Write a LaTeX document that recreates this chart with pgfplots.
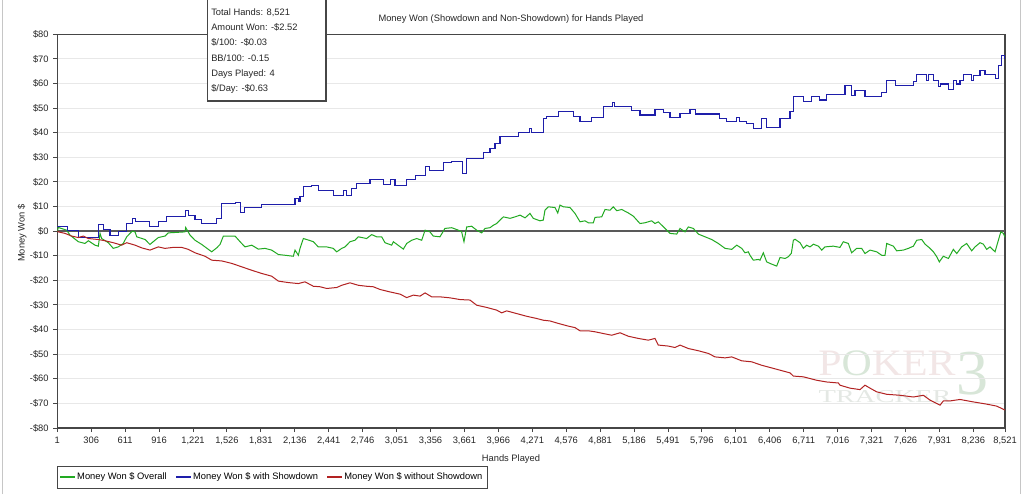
\documentclass[border=0pt]{standalone}
\usepackage{fontspec}
\setmainfont{Liberation Sans}
\newfontfamily\wmfont{Liberation Serif}
\usepackage{pgfplots}
\pgfplotsset{compat=1.18}
\definecolor{cgreen}{RGB}{34,170,34}
\definecolor{cblue}{RGB}{30,30,170}
\definecolor{cred}{RGB}{178,34,34}
\definecolor{axgray}{RGB}{70,70,70}
\definecolor{gridgray}{RGB}{232,232,232}
\definecolor{wmpink}{RGB}{242,230,230}
\definecolor{wmgreen}{RGB}{216,230,216}
\definecolor{wmgray}{RGB}{228,232,228}
\begin{document}
\begin{tikzpicture}[x=0.75pt,y=0.75pt]
\useasboundingbox (0,0) rectangle (1023,494);
\fill[white] (0,0) rectangle (1023,494);
\draw[gray!45,line width=0.75pt] (2,0) -- (2,494);
\draw[gray!45,line width=0.75pt] (1020.5,0) -- (1020.5,494);
% watermark
\node[font=\wmfont\fontsize{28}{28}\selectfont, text=wmpink, xscale=1.12] at (887,131) {P{\color{wmgreen}O}KER};
\node[font=\wmfont\fontsize{13.6}{14}\selectfont, text=wmgray, xscale=1.57] at (885,97) {TRACKER};
\node[font=\wmfont\fontsize{48}{48}\selectfont, text=wmgreen] at (972,120) {3};
\begin{axis}[
  at={(42.975pt,49.5pt)}, anchor=south west,
  scale only axis, width=710.8pt, height=295.3pt,
  xmin=1, xmax=8521, ymin=-80, ymax=80,
  axis line style={axgray, line width=0.9pt},
  tick style={axgray, line width=0.75pt},
  major tick length=3pt, tick align=outside,
  xtick pos=bottom, ytick pos=left,
  ymajorgrids, grid style={gridgray, line width=0.75pt},
  xtick={1,306,611,916,1221,1526,1831,2136,2441,2746,3051,3356,3661,3966,4271,4576,4881,5186,5491,5796,6101,6406,6711,7016,7321,7626,7931,8236,8521},
  xticklabels={1,306,611,916,{1,221},{1,526},{1,831},{2,136},{2,441},{2,746},{3,051},{3,356},{3,661},{3,966},{4,271},{4,576},{4,881},{5,186},{5,491},{5,796},{6,101},{6,406},{6,711},{7,016},{7,321},{7,626},{7,931},{8,236},{8,521}},
  ytick={-80,-70,-60,-50,-40,-30,-20,-10,0,10,20,30,40,50,60,70,80},
  yticklabels={-\$80,-\$70,-\$60,-\$50,-\$40,-\$30,-\$20,-\$10,\$0,\$10,\$20,\$30,\$40,\$50,\$60,\$70,\$80},
  tick label style={font=\fontsize{7}{8}\selectfont, text=black!85},
  title={Money Won (Showdown and Non-Showdown) for Hands Played},
  title style={at={(axis description cs:0.4787,1.0389)}, anchor=center, yshift=-6pt, font=\fontsize{7}{8}\selectfont, text=black!85},
  xlabel={Hands Played},
  xlabel style={at={(axis description cs:0.4787,-0.0787)}, anchor=center, font=\fontsize{7}{8}\selectfont, text=black!85},
  ylabel={Money Won \$},
  ylabel style={at={(axis description cs:-0.0372,0.495)}, anchor=center, rotate=0, font=\fontsize{7}{8}\selectfont, text=black!85},
  legend columns=3,
  legend style={name=lgd, at={(axis description cs:0,-0.0983)}, anchor=north west, draw=none, fill=white, font=\fontsize{7}{8}\selectfont, inner xsep=2pt, inner ysep=2.5pt, /tikz/every even column/.append style={column sep=5pt}},
  legend image code/.code={\fill[#1] (0pt,-0.38pt) rectangle (10pt,0.38pt);},
]
\addplot[black!65, line width=1.1pt, forget plot] coordinates {(1,0) (8521,0)};
\addplot[color=cgreen, line width=0.75pt] coordinates {
(1,0) (10,1.5) (85,0.4) (115,-1.6) (190,-4.3) (250,-5.0) (280,-3.9) (340,-5.7) (370,-6.1) (385,-0.9) (400,-3.0)
(460,-4.7) (504,-7.0) (549,-6.4) (594,-5.0) (625,-2.3) (655,-0.9) (675,0.0) (700,-0.3) (715,-2.3) (790,-3.4)
(834,-5.4) (879,-3.7) (909,-2.6) (969,-2.0) (999,-0.7) (1149,-0.3) (1155,1.5) (1194,-1.6) (1239,-3.7) (1299,-5.4)
(1389,-8.4) (1434,-6.8) (1464,-5.4) (1494,-2.0) (1599,-2.0) (1644,-4.3) (1688,-6.4) (1749,-5.7) (1808,-7.3)
(1868,-7.0) (1928,-7.7) (1988,-9.5) (2048,-9.8) (2123,-10.2) (2138,-7.7) (2168,-9.8) (2183,-7.0) (2213,-3.0)
(2243,-3.4) (2303,-4.3) (2347,-6.4) (2423,-6.4) (2482,-7.0) (2513,-8.4) (2558,-7.0) (2588,-6.4) (2632,-4.3)
(2677,-3.7) (2707,-2.3) (2782,-3.0) (2827,-1.4) (2872,-2.3) (2917,-2.3) (2947,-4.7) (3007,-5.7) (3022,-4.3)
(3112,-7.3) (3142,-5.0) (3187,-3.7) (3232,-3.0) (3277,-3.7) (3307,0.4) (3351,-0.3) (3381,-2.0) (3441,-2.3)
(3486,1.1) (3547,1.4) (3606,0.4) (3636,-0.3) (3657,-4.3) (3681,1.7) (3726,2.0) (3771,0.4) (3816,-0.7) (3846,1.1)
(3891,1.4) (3921,2.4) (3951,3.1) (3981,4.5) (4011,5.8) (4071,5.2) (4116,5.8) (4161,6.5) (4206,5.4) (4250,7.2)
(4280,5.2) (4340,4.2) (4370,4.5) (4385,8.5) (4415,9.9) (4475,9.6) (4500,7.4) (4520,10.6) (4550,9.9) (4610,9.6)
(4655,7.2) (4700,3.8) (4745,4.2) (4775,3.4) (4820,3.4) (4835,5.6) (4895,5.8) (4925,8.8) (4970,8.5) (4999,9.9)
(5030,8.3) (5075,8.8) (5134,7.4) (5179,6.1) (5239,3.1) (5284,3.4) (5344,4.2) (5374,3.1) (5404,3.8) (5464,1.1)
(5509,-0.9) (5569,-1.2) (5599,1.1) (5644,-0.3) (5674,1.7) (5719,1.1) (5764,-1.2) (5824,-2.3) (5884,-3.4)
(5943,-5.0) (6004,-7.0) (6064,-7.4) (6109,-5.7) (6154,-7.0) (6183,-8.8) (6213,-8.4) (6228,-9.8) (6258,-11.8)
(6303,-11.5) (6318,-11.8) (6348,-8.8) (6378,-12.5) (6423,-13.4) (6468,-14.2) (6498,-10.7) (6543,-11.1)
(6573,-10.4) (6600,-9.0) (6618,-3.7) (6633,-3.3) (6678,-4.7) (6708,-7.0) (6738,-5.7) (6768,-6.4) (6798,-5.3)
(6843,-6.1) (6873,-7.7) (6902,-6.4) (6977,-6.1) (7037,-6.6) (7067,-4.3) (7112,-5.0) (7142,-8.8) (7187,-7.0)
(7232,-7.0) (7262,-9.1) (7307,-7.7) (7367,-8.4) (7412,-9.8) (7442,-9.8) (7457,-5.0) (7517,-6.1) (7547,-8.0)
(7607,-7.7) (7652,-7.0) (7697,-6.1) (7727,-3.7) (7772,-3.4) (7802,-5.3) (7847,-7.0) (7877,-8.4) (7907,-10.4)
(7930,-12.5) (7966,-10.2) (8012,-11.1) (8056,-7.4) (8087,-9.1) (8131,-6.4) (8176,-5.0) (8221,-8.0) (8251,-6.4)
(8296,-4.7) (8326,-5.3) (8356,-7.4) (8386,-6.4) (8431,-8.4) (8461,-3.7) (8483,-0.3) (8506,-0.9) (8521,-2.5)
};
\addlegendentry{Money Won \$ Overall}
\addplot[color=cblue, line width=0.8pt, const plot] coordinates {
(1,1.7) (94,0.1) (190,-2.6) (370,2.8) (415,0.7) (475,-1.6) (549,-0.3) (625,3.1) (675,5.2) (700,3.8) (834,1.7)
(909,4.1) (985,6.1) (1155,8.3) (1179,6.5) (1239,4.7) (1299,3.1) (1434,5.2) (1479,11.3) (1599,11.7) (1644,7.6)
(1688,9.6) (1839,10.8) (2138,13.3) (2168,11.9) (2183,14.2) (2213,18.0) (2288,18.4) (2347,16.4) (2482,14.6)
(2572,16.7) (2600,14.6) (2648,17.4) (2693,19.4) (2812,21.0) (2932,19.0) (3000,21.0) (3037,18.7) (3142,21.0)
(3217,22.8) (3307,26.1) (3351,24.5) (3471,27.8) (3547,28.2) (3640,23.5) (3681,29.6) (3831,32.0) (3891,33.6)
(3936,35.6) (3981,38.6) (4145,40.0) (4250,41.7) (4266,40.1) (4370,45.8) (4400,46.7) (4505,48.5) (4640,46.7)
(4700,44.7) (4805,46.2) (4909,50.8) (4990,52.2) (5010,50.8) (5165,48.9) (5239,47.2) (5374,49.5) (5449,48.3)
(5509,46.1) (5599,47.8) (5689,49.5) (5740,47.6) (5958,45.8) (6019,44.7) (6109,46.2) (6130,44.7) (6200,43.8)
(6258,41.7) (6330,45.8) (6378,42.0) (6498,45.8) (6588,48.5) (6618,54.6) (6708,52.8) (6783,54.6) (6857,53.3)
(6918,55.7) (7082,59.3) (7140,55.3) (7172,57.0) (7262,54.9) (7412,56.4) (7457,61.1) (7532,59.1) (7697,60.7)
(7727,63.7) (7817,61.4) (7832,63.7) (7877,61.4) (7922,58.7) (7937,59.8) (8012,57.7) (8056,61.4) (8087,59.8)
(8116,61.4) (8146,63.7) (8221,61.4) (8236,63.4) (8296,65.2) (8341,63.8) (8437,62.1) (8461,67.5) (8485,71.5)
(8512,70.2) (8521,70.2)
};
\addlegendentry{Money Won \$ with Showdown}
\addplot[color=cred, line width=0.75pt] coordinates {
(1,0) (10,-0.3) (70,-0.9) (130,-2.0) (190,-2.6) (235,-2.0) (280,-3.0) (370,-3.4) (430,-3.9) (504,-4.7) (580,-5.7)
(625,-4.7) (700,-5.7) (760,-6.8) (834,-7.7) (909,-6.4) (969,-7.0) (1044,-6.6) (1119,-6.6) (1179,-7.4) (1239,-8.8)
(1329,-10.2) (1389,-11.8) (1479,-12.1) (1569,-13.1) (1659,-14.5) (1749,-15.9) (1839,-17.2) (1928,-18.3)
(1988,-20.3) (2078,-20.9) (2168,-21.3) (2228,-20.6) (2303,-22.4) (2363,-22.6) (2423,-23.3) (2513,-22.9)
(2558,-22.0) (2632,-21.0) (2707,-22.0) (2782,-22.4) (2842,-22.6) (2902,-23.7) (2992,-24.7) (3082,-25.6)
(3142,-27.0) (3202,-26.0) (3262,-26.4) (3307,-25.1) (3367,-26.7) (3441,-26.7) (3531,-27.1) (3621,-27.8)
(3711,-28.0) (3771,-30.1) (3861,-31.0) (3951,-32.1) (3996,-33.2) (4041,-32.4) (4131,-33.5) (4221,-34.6)
(4311,-35.5) (4370,-36.2) (4430,-36.5) (4505,-37.5) (4595,-38.6) (4655,-39.2) (4700,-40.5) (4775,-40.5)
(4835,-40.9) (4909,-41.6) (4985,-42.3) (5060,-41.3) (5134,-42.7) (5224,-43.6) (5314,-44.3) (5374,-43.6)
(5404,-46.3) (5494,-46.7) (5554,-47.3) (5599,-46.3) (5674,-47.7) (5764,-48.6) (5854,-49.7) (5914,-51.1)
(6004,-51.5) (6064,-51.1) (6154,-52.7) (6243,-53.1) (6333,-54.5) (6408,-55.4) (6498,-56.5) (6588,-57.6)
(6618,-58.9) (6708,-59.2) (6768,-59.9) (6828,-60.6) (6918,-61.3) (7022,-61.7) (7037,-62.6) (7127,-63.8)
(7217,-64.4) (7262,-62.6) (7307,-63.8) (7367,-65.3) (7457,-66.3) (7577,-66.7) (7697,-67.4) (7787,-66.7)
(7847,-68.7) (7937,-70.7) (7966,-69.0) (8026,-69.0) (8116,-68.4) (8236,-69.4) (8356,-70.3) (8446,-71.1)
(8506,-72.4) (8521,-72.7)
};
\addlegendentry{Money Won \$ without Showdown}
\end{axis}
\draw[axgray, line width=0.9pt] (lgd.south west) rectangle (lgd.north east);
% statistics box
\draw[axgray, line width=0.9pt, fill=white] (207.3,393) rectangle (326,500);
\begin{scope}[every node/.style={anchor=base west, inner sep=0pt, font=\fontsize{7}{8}\selectfont, text=black!85}]
\node at (211,478.7) {Total Hands: 8,521};
\node at (211,463.45) {Amount Won: -\$2.52};
\node at (211,448.2) {\$/100: -\$0.03};
\node at (211,432.95) {BB/100: -0.15};
\node at (211,417.7) {Days Played: 4};
\node at (211,402.45) {\$/Day: -\$0.63};
\end{scope}
\end{tikzpicture}
\end{document}
